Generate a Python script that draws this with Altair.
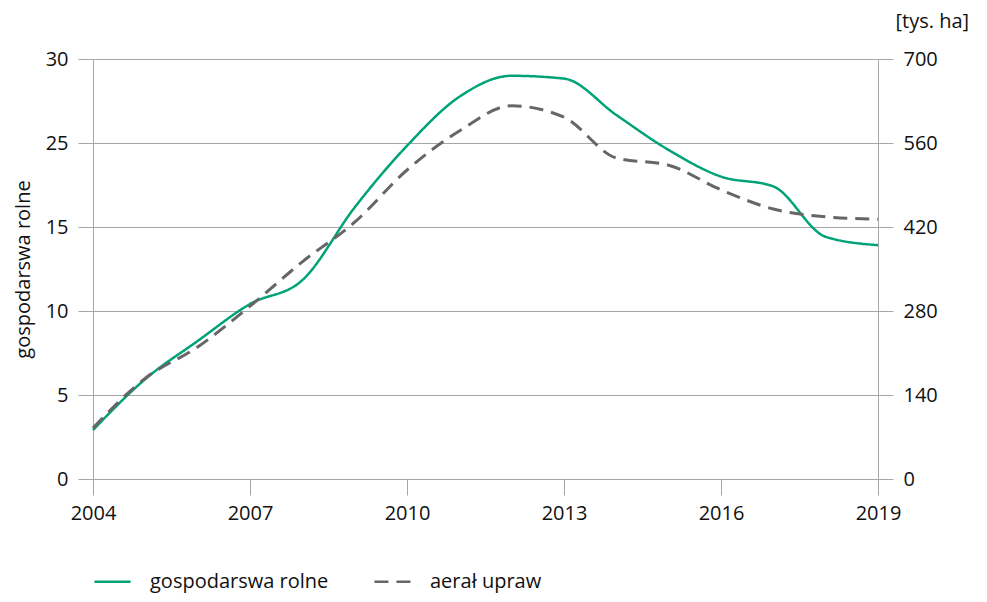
import altair as alt
import pandas as pd

years = list(range(2004, 2020))
farms = [3.5, 7.14, 9.86, 12.5, 14.2, 19.4, 23.8, 27.3, 28.8, 28.6, 26.0, 23.5, 21.6, 20.9, 17.3, 16.7]
area = [85, 168, 220, 288, 362, 428, 515, 580, 622, 603, 535, 523, 482, 450, 437, 433]

s1 = "gospodarswa rolne"
s2 = "aerał upraw"
left_ticks = [0, 6, 12, 18, 24, 30]
left_labels = ["0", "5", "10", "15", "25", "30"]
right_ticks = [0, 140, 280, 420, 560, 700]
x_ticks = [2004, 2007, 2010, 2013, 2016, 2019]

df = pd.DataFrame({
    "year": years * 2,
    "value": farms + area,
    "series": [s1] * len(years) + [s2] * len(years),
})

FONT = "Open Sans"
GRID = "#a6a6a6"
TXT = "#111111"
FS = 20

label_expr = " : ".join(
    f"datum.value == {t} ? '{l}'" for t, l in zip(left_ticks, left_labels)
) + " : ''"

color = alt.Color(
    "series:N",
    scale=alt.Scale(domain=[s1, s2], range=["#00a278", "#666666"]),
    legend=alt.Legend(
        title=None, orient="none", direction="horizontal",
        legendX=0, legendY=503,
        symbolType="stroke", symbolSize=1300, symbolStrokeWidth=2.5,
        labelFontSize=FS, labelFont=FONT, labelColor=TXT, labelLimit=400,
        labelOffset=18, columnPadding=40,
    ),
)
dash = alt.StrokeDash(
    "series:N",
    scale=alt.Scale(domain=[s1, s2], range=[[1, 0], [14, 8]]),
    legend=None,
)

x = alt.X(
    "year:Q",
    scale=alt.Scale(domain=[2004, 2019], nice=False, zero=False),
    axis=alt.Axis(
        values=x_ticks, format="d", title=None, grid=False, domain=False,
        tickColor=GRID, tickSize=16, labelFontSize=FS, labelFont=FONT,
        labelColor=TXT, labelPadding=8, labelFlush=False,
    ),
)

left = alt.Chart(df).transform_filter(alt.datum.series == s1).mark_line(
    interpolate="monotone", strokeWidth=2.5
).encode(
    x=x,
    y=alt.Y(
        "value:Q",
        scale=alt.Scale(domain=[0, 30], nice=False),
        axis=alt.Axis(
            values=left_ticks, labelExpr=label_expr, title=s1,
            titleFontSize=FS, titleFont=FONT, titleColor=TXT,
            titleFontWeight="normal", titlePadding=12,
            labelFontSize=FS, labelFont=FONT, labelColor=TXT, labelPadding=10,
            tickSize=15, tickColor=GRID, domainColor=GRID, gridColor=GRID,
            grid=True,
        ),
    ),
    color=color,
    strokeDash=dash,
)

right = alt.Chart(df).transform_filter(alt.datum.series == s2).mark_line(
    interpolate="monotone", strokeWidth=3
).encode(
    x=x,
    y=alt.Y(
        "value:Q",
        scale=alt.Scale(domain=[0, 700], nice=False),
        axis=alt.Axis(
            orient="right", values=right_ticks, title="[tys. ha]",
            titleAngle=0, titleAlign="left", titleBaseline="middle",
            titleX=17, titleY=-38, titleFontSize=FS, titleFont=FONT,
            titleColor=TXT, titleFontWeight="normal",
            labelFontSize=FS, labelFont=FONT, labelColor=TXT, labelPadding=10,
            tickSize=15, tickColor=GRID, domainColor=GRID, grid=False,
        ),
    ),
    color=color,
    strokeDash=dash,
)

chart = alt.layer(left, right).resolve_scale(y="independent").properties(
    width=785, height=420,
    autosize=alt.AutoSizeParams(type="none"),
    padding={"left": 85, "top": 51, "right": 100, "bottom": 115},
).configure_view(stroke=None).configure(background="white")

chart.save("out.html", embed_options={"renderer": "svg", "actions": False})
